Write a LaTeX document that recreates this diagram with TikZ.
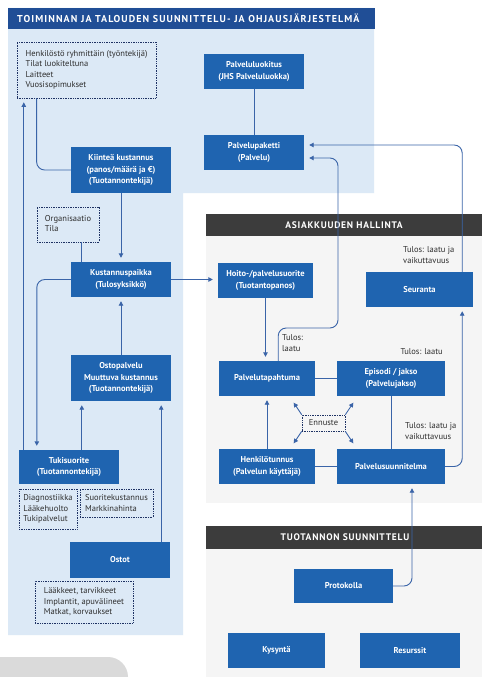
\documentclass[tikz,border=0pt]{standalone}
\usepackage{fontspec}
\setmainfont{PT Sans}
\newfontfamily\headfont[LetterSpace=8]{PT Sans}
\newfontfamily\titlefont[LetterSpace=11]{PT Sans}
\usetikzlibrary{arrows.meta}
\definecolor{boxblue}{RGB}{31,100,176}
\definecolor{panelblue}{RGB}{220,233,246}
\definecolor{titleblue}{RGB}{32,78,150}
\definecolor{darkhead}{RGB}{60,60,60}
\definecolor{greypanel}{RGB}{245,245,245}
\definecolor{lineblue}{RGB}{58,100,168}
\definecolor{dotnavy}{RGB}{30,50,100}
\definecolor{txtgrey}{RGB}{45,45,45}
\definecolor{tabgrey}{RGB}{218,218,218}
\begin{document}
\begin{tikzpicture}[x=1pt,y=-1pt,
  bbox/.style={fill=boxblue, text=white, font=\fontsize{8.5}{11.5}\selectfont\bfseries, align=center, inner sep=0pt},
  dbox/.style={draw=dotnavy, densely dotted, line width=0.7pt, text=txtgrey, font=\fontsize{8.5}{10.5}\selectfont, align=left, inner sep=0pt},
  lbl/.style={text=txtgrey, font=\fontsize{8.5}{11}\selectfont, align=left, inner sep=0pt},
  headtxt/.style={text=white, font=\headfont\fontsize{9.5}{11}\selectfont\bfseries, inner sep=0pt},
  titletxt/.style={text=white, font=\titlefont\fontsize{10}{11}\selectfont\bfseries, inner sep=0pt},
  conn/.style={draw=lineblue, line width=0.9pt},
  arr/.style={draw=lineblue, line width=0.9pt, -{Triangle[length=4.5pt,width=4.5pt]}, shorten >=4pt},
  earr/.style={draw=lineblue, line width=0.9pt, -{Triangle[length=4.5pt,width=4.5pt]}}
]
\useasboundingbox (0,0) rectangle (494,677);
\fill[white] (0,0) rectangle (494,677);
% panels
\fill[panelblue] (8,8) -- (374,8) -- (374,193) -- (183,193) -- (183,635) -- (8,635) -- cycle;
\fill[titleblue] (8,8) rectangle (375,29);
\node[titletxt, anchor=west] (title) at (17,18.5) {TOIMINNAN JA TALOUDEN SUUNNITTELU- JA OHJAUSJÄRJESTELMÄ};
\fill[greypanel] (206,214) rectangle (482,503);
\fill[darkhead] (206,214) rectangle (482,236);
\node[headtxt] (asiak) at (344,225) {ASIAKKUUDEN HALLINTA};
\fill[greypanel] (206,526) rectangle (482,677);
\fill[darkhead] (206,526) rectangle (482,549);
\node[headtxt] (tuot) at (345,537.5) {TUOTANNON SUUNNITTELU};
\fill[tabgrey] (0,690) -- (0,657) [rounded corners=20] -- (128,657) -- (128,700) [sharp corners] -- (0,700) -- cycle;

% blue boxes
\node[bbox, minimum width=100, minimum height=35] (luok) at (254,71.5) {Palveluluokitus\\(JHS Palveluluokka)};
\node[bbox, minimum width=100, minimum height=35] (paketti) at (254,152.5) {Palvelupaketti\\(Palvelu)};
\node[bbox, minimum width=100, minimum height=46] (kiint) at (121,170) {Kiinteä kustannus\\(panos/määrä ja €)\\(Tuotannontekijä)};
\node[bbox, minimum width=100, minimum height=35] (kpaikka) at (121,279.5) {Kustannuspaikka\\(Tulosyksikkö)};
\node[bbox, minimum width=100, minimum height=46] (ostop) at (121,378) {Ostopalvelu\\Muuttuva kustannus\\(Tuotannontekijä)};
\node[bbox, minimum width=100, minimum height=34] (tuki) at (69,467) {Tukisuorite\\(Tuotannontekijä)};
\node[bbox, minimum width=100, minimum height=36] (ostot) at (120,560) {Ostot};
\node[bbox, minimum width=95, minimum height=35] (hoito) at (265.5,280.5) {Hoito-/palvelusuorite\\(Tuotantopanos)};
\node[bbox, minimum width=107, minimum height=35] (seur) at (419.5,289.5) {Seuranta};
\node[bbox, minimum width=96, minimum height=35] (ptap) at (267,378.5) {Palvelutapahtuma};
\node[bbox, minimum width=108, minimum height=35] (episodi) at (391,378.5) {Episodi / jakso\\(Palvelujakso)};
\node[bbox, minimum width=96, minimum height=35] (henk) at (267,466.5) {Henkilötunnus\\(Palvelun käyttäjä)};
\node[bbox, minimum width=108, minimum height=35] (psuun) at (391,466.5) {Palvelusuunnitelma};
\node[bbox, minimum width=99, minimum height=34] (prot) at (343.5,586) {Protokolla};
\node[bbox, minimum width=97, minimum height=35] (kys) at (276.5,650.5) {Kysyntä};
\node[bbox, minimum width=100, minimum height=35] (res) at (410,650.5) {Resurssit};

% dotted boxes
\node[dbox, minimum width=139, minimum height=56] (d1) at (86.5,70) {Henkilöstö ryhmittäin (työntekijä)\\Tilat luokiteltuna\\Laitteet\\Vuosisopimukset};
\node[dbox, minimum width=62, minimum height=35] (d2) at (68,224.5) {Organisaatio\\Tila\phantom{jjjjjjjj}};
\node[dbox, minimum width=58, minimum height=40] (d3) at (48,509) {Diagnostiikka\\Lääkehuolto\\Tukipalvelut\phantom{ii}};
\node[dbox, minimum width=73, minimum height=28] (d4) at (116.5,503) {Suoritekustannus\\Markkinahinta\phantom{iiii}};
\node[dbox, minimum width=98, minimum height=42] (d5) at (84,602) {Lääkkeet, tarvikkeet\phantom{i}\\Implantit, apuvälineet\\Matkat, korvaukset};
\node[dbox, minimum width=43, minimum height=16, align=center] (enn) at (323.5,423) {Ennuste};

% labels
\node[lbl, anchor=north west] (l1) at (403,246) {Tulos: laatu ja\\vaikuttavuus};
\node[lbl, anchor=north west] (l2) at (282,334) {Tulos:\\laatu};
\node[lbl, anchor=north east] (l3) at (443,348) {Tulos: laatu};
\node[lbl, anchor=north west] (l4) at (405,422) {Tulos: laatu ja\\vaikuttavuus};

% connectors, left panel
\draw[conn] (luok.south) -- (paketti.north);
\draw[conn, rounded corners=8] ([xshift=20pt]d1.south west) |- (kiint.west);
\draw[arr] ([xshift=5pt]tuki.north west) -- ([xshift=5pt]tuki.north west |- d1.south);
\draw[arr] (kiint.south) -- (kpaikka.north);
\coordinate (d2b) at ([xshift=45pt]d2.south west);
\draw[conn] (d2b) -- (d2b |- kpaikka.north);
\draw[arr, shorten >=5pt] (kpaikka.east) -- (kpaikka.east -| hoito.west);
\draw[arr, rounded corners=8] (kpaikka.west) -| ([xshift=18pt]tuki.north west);
\draw[arr] (ostop.north) -- (kpaikka.south);
\coordinate (tk) at ([xshift=63pt]tuki.north west);
\draw[arr] (tk) -- (tk |- ostop.south);
\coordinate (ot) at ([xshift=-9pt]ostot.north east);
\draw[arr] (ot) -- (ot |- ostop.south);

% connectors, customer panel
\draw[arr] (hoito.south) -- (hoito.south |- ptap.north);
\draw[arr] (henk.north) -- (ptap.south);
\draw[conn] (ptap.east) -- (episodi.west);
\draw[conn] (henk.east) -- (psuun.west);
\draw[conn] (episodi.south) -- (psuun.north);
\draw[arr, rounded corners=8] (psuun.east) -| ([xshift=-11pt]seur.south east);
\draw[arr, shorten >=5pt, rounded corners=8] ([xshift=-11pt]seur.north east) |- ([yshift=7.5pt]paketti.east);
\coordinate (ptn) at ([xshift=-37pt]ptap.north east);
\coordinate (bend) at (338,328);
\draw[arr, shorten >=5pt, rounded corners=8] (ptn) |- (bend) |- ([yshift=-5.5pt]paketti.east);
\draw[arr, rounded corners=8] (prot.east) -| ([xshift=21pt]psuun.south);
\draw[earr] (enn.north west) -- ++(-8,-12);
\draw[earr] (enn.north east) -- ++(8,-12);
\draw[earr] (enn.south west) -- ++(-8,12);
\draw[earr] (enn.south east) -- ++(8,12);
\end{tikzpicture}
\end{document}
